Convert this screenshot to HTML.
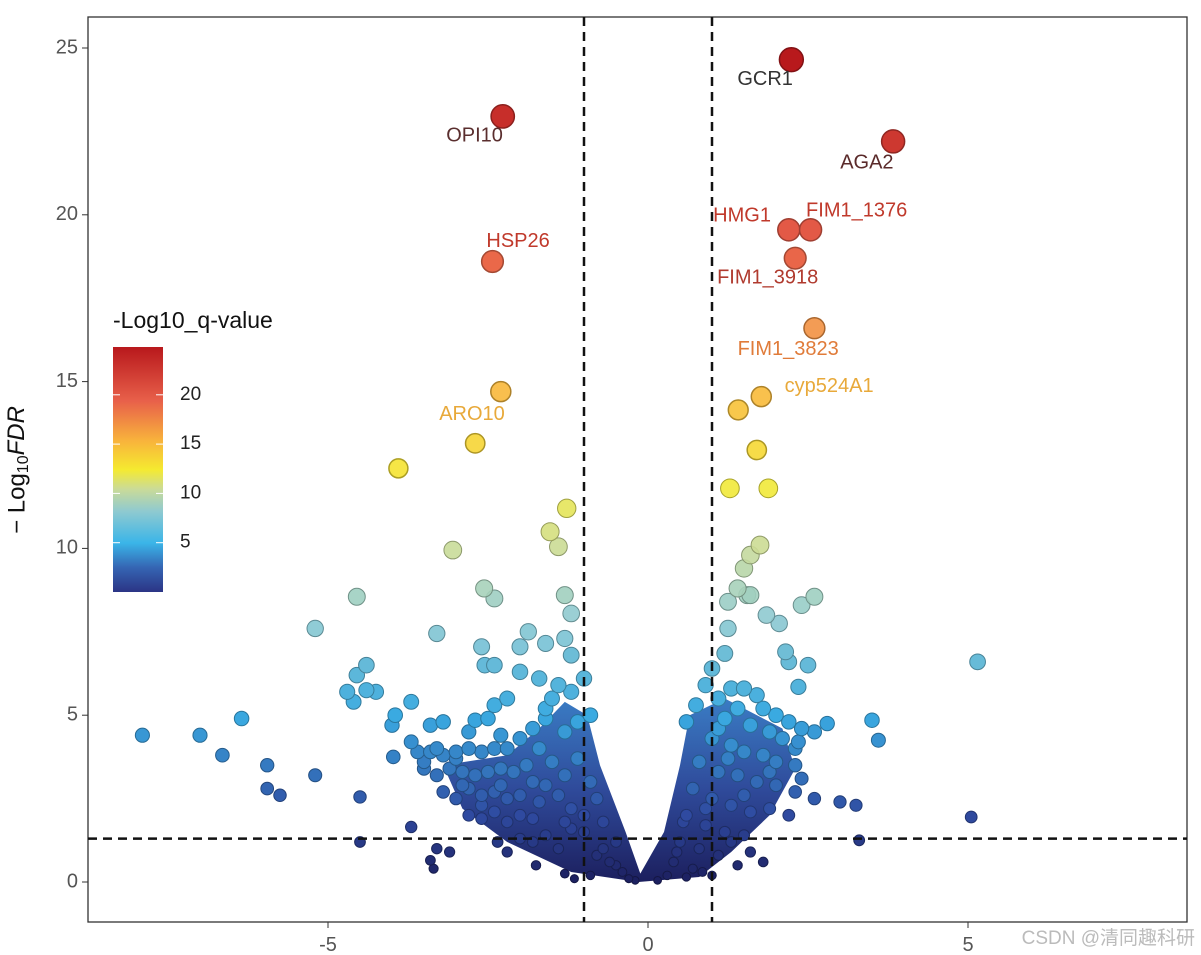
<!DOCTYPE html>
<html><head><meta charset="utf-8"><style>
body{margin:0;background:#fff;}
svg{display:block;font-family:"Liberation Sans","Noto Sans CJK SC",sans-serif;}
</style></head><body>
<svg id="chart" width="1201" height="955">
<defs>
<linearGradient id="cbar" x1="0" y1="1" x2="0" y2="0">
<stop offset="0" stop-color="#2b3485"/><stop offset="0.1" stop-color="#3565b3"/><stop offset="0.2" stop-color="#3ab5e8"/><stop offset="0.33" stop-color="#8fcad0"/><stop offset="0.42" stop-color="#cadb98"/><stop offset="0.5" stop-color="#f5ea30"/><stop offset="0.62" stop-color="#f8b23c"/><stop offset="0.78" stop-color="#e8604a"/><stop offset="1" stop-color="#b8181c"/>
</linearGradient>
<linearGradient id="core" x1="0" y1="1" x2="0" y2="0">
<stop offset="0" stop-color="#1c1f5e"/><stop offset="0.5" stop-color="#2f4a9a"/><stop offset="1" stop-color="#3a7cc4"/>
</linearGradient>
</defs>
<rect x="88" y="17" width="1099" height="905" fill="#fff" stroke="#333" stroke-width="1.3"/>
<g id="core-g"></g>
<g id="pts"></g>
<g id="guides"></g>
<g id="labels"></g>
<g id="axes"></g>
<text x="18" y="470" transform="rotate(-90 18 470)" text-anchor="middle" font-size="24" fill="#111" dominant-baseline="middle">− Log<tspan font-size="16" dy="6">10</tspan><tspan dy="-6" font-style="italic">FDR</tspan></text>
<text x="113" y="328" font-size="23" fill="#111">-Log10_q-value</text>
<rect x="113" y="347" width="50" height="245" fill="url(#cbar)"/>
<g id="cbticks"></g>
<text x="1195" y="944" text-anchor="end" font-size="19" fill="#bbb">CSDN @清同趣科研</text>
</svg>
<script>
const xVals=[2.24,-2.27,3.83,2.2,2.54,2.3,-2.43,2.6,1.77,1.41,-2.3,-2.7,-3.9,1.7,1.28,1.88,-1.27,-1.53,-1.4,-3.05,1.6,1.75,1.5,-2.56,-2.4,-4.55,-1.3,-1.2,1.4,1.55,1.25,1.6,2.4,2.6,1.85,2.05,-5.2,-3.3,-1.87,-1.6,-2.0,-1.3,-2.6,-1.2,1.25,2.15,2.2,-4.4,-4.55,-2.55,-2.4,-2.0,1.0,2.5,5.15,1.2,-4.7,-4.4,-4.25,-4.6,-3.7,-1.7,-2.4,2.35,3.5,3.6,2.8,-7.9,-7.0,-6.65,-6.35,-5.95,-5.2,-5.95,-5.75,-4.5,-3.95,-4.0,-3.98,-3.4,-3.2,-2.7,-2.8,3.0,3.25,5.05,3.3,-3.7,-4.5,-3.3,-3.1,-3.4,-3.35,-2.35,-2.2,-1.75,1.6,1.8,1.3,1.4,-1.3,-1.15,1.0,0.85,
-3.6,-3.4,-3.2,-3.0,-2.8,-2.6,-2.4,-2.2,-3.5,-3.3,-3.1,-2.9,-2.7,-2.5,-2.3,-2.1,-3.2,-3.0,-2.8,-2.6,-2.4,-2.2,-2.0,-2.8,-2.6,-2.4,-2.2,-2.0,-1.8,-2.0,-1.8,-1.6,-1.4,-2.0,-1.8,-1.6,-1.5,-1.4,-1.2,-1.0,-1.7,-1.5,-1.9,-1.3,-1.1,-0.9,-1.6,-2.3,-1.3,-1.6,-1.1,-0.9,-0.8,-1.2,-0.7,-1.0,-0.5,-0.6,-0.4,-0.8,-0.3,-0.2,-0.9,-1.3,-1.7,-3.3,-2.5,-2.2,
1.3,1.5,1.7,1.1,1.4,1.8,2.0,2.2,2.4,2.6,1.2,1.6,1.9,2.1,2.35,1.0,1.3,1.5,1.8,2.0,2.3,0.8,1.1,1.4,1.7,2.0,2.3,0.7,1.0,1.3,1.6,1.9,2.2,0.6,0.9,1.2,1.5,0.5,0.8,1.1,0.4,0.7,0.3,0.15,0.6,0.9,2.4,2.6,1.1,0.6,0.75,
-1.0,-1.4,-1.8,-2.6,-2.9,-3.5,-0.7,-1.2,-0.5,0.45,0.9,1.5,1.9,2.3,0.55,1.25,-3.7,-3.0,-2.3];
const yVals=[24.65,22.95,22.2,19.55,19.55,18.7,18.6,16.6,14.55,14.15,14.7,13.15,12.4,12.95,11.8,11.8,11.2,10.5,10.05,9.95,9.8,10.1,9.4,8.8,8.5,8.55,8.6,8.05,8.8,8.6,8.4,8.6,8.3,8.55,8.0,7.75,7.6,7.45,7.5,7.15,7.05,7.3,7.05,6.8,7.6,6.9,6.6,6.5,6.2,6.5,6.5,6.3,6.4,6.5,6.6,6.85,5.7,5.75,5.7,5.4,5.4,6.1,5.3,5.85,4.85,4.25,4.75,4.4,4.4,3.8,4.9,3.5,3.2,2.8,2.6,2.55,5.0,4.7,3.75,4.7,4.8,4.85,4.5,2.4,2.3,1.95,1.25,1.65,1.2,1.0,0.9,0.65,0.4,1.2,0.9,0.5,0.9,0.6,1.2,0.5,0.25,0.1,0.2,0.3,
3.9,3.9,3.8,3.9,4.0,3.9,4.0,4.0,3.4,3.2,3.4,3.3,3.2,3.3,3.4,3.3,2.7,2.5,2.8,2.6,2.7,2.5,2.6,2.0,1.9,2.1,1.8,2.0,1.9,1.3,1.2,1.4,1.0,4.3,4.6,4.9,5.5,5.9,5.7,6.1,4.0,3.6,3.5,4.5,4.8,5.0,5.2,4.4,3.2,2.9,3.7,3.0,2.5,2.2,1.8,1.5,1.2,0.6,0.3,0.8,0.1,0.05,0.2,1.8,2.4,4.0,4.9,5.5,
5.8,5.8,5.6,5.5,5.2,5.2,5.0,4.8,4.6,4.5,4.9,4.7,4.5,4.3,4.2,4.3,4.1,3.9,3.8,3.6,3.5,3.6,3.3,3.2,3.0,2.9,2.7,2.8,2.5,2.3,2.1,2.2,2.0,2.0,1.7,1.5,1.4,1.2,1.0,0.8,0.6,0.4,0.2,0.05,0.15,5.9,3.1,2.5,4.6,4.8,5.3,
2.0,2.6,3.0,2.3,2.9,3.6,1.0,1.6,0.5,0.9,2.2,2.6,3.3,4.0,1.8,3.7,4.2,3.7,2.9];
const geneNames=["GCR1","OPI10","AGA2","HMG1","FIM1_1376","FIM1_3918","HSP26","FIM1_3823","cyp524A1","ARO10"];
const labelX=[1.83,-2.71,3.42,1.47,3.26,1.87,-2.03,2.19,2.83,-2.75];
const labelY=[24.05,22.35,21.55,19.95,20.1,18.1,19.2,15.95,14.85,14.0];
const labelColors=["#333","#5a2e2e","#5a2a2a","#c0392b","#c0392b","#b03a2e","#c0392b","#e07b39","#e8a93a","#e8a93a"];
const xTicks=[-5,0,5];
const yTicks=[0,5,10,15,20,25];
const cbTicks=[5,10,15,20];
const corePoly=[[-0.15,0],[-1.2,0.3],[-2.2,1.2],[-2.9,2.2],[-3.2,3.5],[-2.2,3.8],[-1.7,4.6],[-1.3,5.4],[-0.95,5.0],[-0.75,3.5],[-0.35,1.5],[-0.12,0.25],[0.25,1.5],[0.5,3.5],[0.65,5.0],[1.2,5.5],[2.1,4.6],[2.3,3.4],[1.9,2.0],[1.3,0.9],[0.8,0.15]];

const NS="http://www.w3.org/2000/svg";
const sx=v=>648+v*64, sy=v=>882-v*33.36;
const cb=v=>592-v*9.86;
const stops=[[0,[28,31,94]],[2,[47,74,160]],[5,[58,170,225]],[8,[143,202,208]],[10,[202,219,152]],[12,[245,234,48]],[15,[248,178,60]],[19,[232,96,74]],[24.7,[184,24,28]]];
function col(v,dk){let c=stops[stops.length-1][1];for(let i=0;i<stops.length-1;i++){if(v<=stops[i+1][0]){const t=Math.max(0,(v-stops[i][0])/(stops[i+1][0]-stops[i][0]));c=stops[i][1].map((a,k)=>a+(stops[i+1][1][k]-a)*t);break;}}const f=dk?0.7:1;return`rgb(${c.map(a=>Math.round(a*f)).join(',')})`;}
function mk(tag,attrs,parent){const e=document.createElementNS(NS,tag);for(const k in attrs)e.setAttribute(k,attrs[k]);parent.appendChild(e);return e;}
const coreG=document.getElementById('core-g');
const poly=mk('polygon',{points:corePoly.map(p=>sx(p[0])+','+sy(p[1])).join(' '),fill:'url(#core)'},coreG);


const order=xVals.map((_,i)=>i).sort((a,b)=>yVals[a]-yVals[b]);
const pg=document.getElementById('pts');
order.forEach(i=>{const y=yVals[i];const r=3.5+8.5*Math.pow(y/25,0.5);
const c=mk('circle',{cx:sx(xVals[i]),cy:sy(y),r:r,fill:col(y),stroke:col(y,true),'stroke-width':y>12?1.5:1,'fill-opacity':y>7&&y<18?0.9:1},pg);

});
const gd=document.getElementById('guides');
[[sx(-1),17,sx(-1),922],[sx(1),17,sx(1),922],[88,sy(1.3),1187,sy(1.3)]].forEach(l=>{const e=mk('line',{x1:l[0],y1:l[1],x2:l[2],y2:l[3],stroke:'#111','stroke-width':2.5,'stroke-dasharray':'9,6'},gd);

});
const lg=document.getElementById('labels');
geneNames.forEach((n,i)=>{const t=mk('text',{x:sx(labelX[i]),y:sy(labelY[i]),'text-anchor':'middle','dominant-baseline':'middle','font-size':20,fill:labelColors[i]},lg);t.textContent=n;

});
const ax=document.getElementById('axes');
xTicks.forEach(v=>{mk('line',{x1:sx(v),y1:922,x2:sx(v),y2:928,stroke:'#333'},ax);const t=mk('text',{x:sx(v),y:951,'text-anchor':'middle','font-size':20,fill:'#555'},ax);t.textContent=v<0?'-'+(-v):v;

});
yTicks.forEach(v=>{mk('line',{x1:82,y1:sy(v),x2:88,y2:sy(v),stroke:'#333'},ax);const t=mk('text',{x:78,y:sy(v),'text-anchor':'end','dominant-baseline':'middle','font-size':20,fill:'#555'},ax);t.textContent=v;

});
const cg=document.getElementById('cbticks');
cbTicks.forEach(v=>{mk('line',{x1:113,y1:cb(v),x2:120,y2:cb(v),stroke:'#fff'},cg);mk('line',{x1:156,y1:cb(v),x2:163,y2:cb(v),stroke:'#fff'},cg);const t=mk('text',{x:180,y:cb(v),'dominant-baseline':'middle','font-size':19,fill:'#222'},cg);t.textContent=v;

});
</script>
</body></html>
